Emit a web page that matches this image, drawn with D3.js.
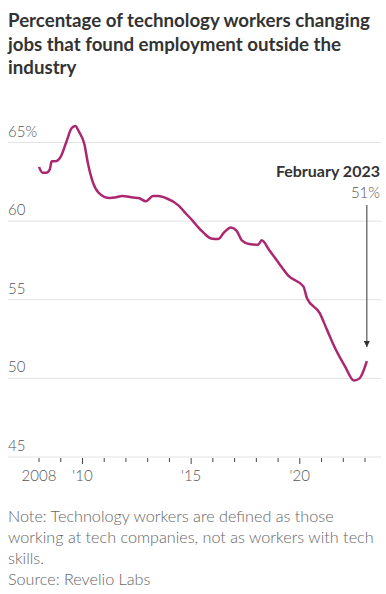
<!DOCTYPE html>
<html>
<head>
<meta charset="utf-8">
<script src="https://cdn.jsdelivr.net/npm/d3@7"></script>
<style>
  body { margin: 0; background: #fff; }
  svg { display: block; }
</style>
</head>
<body>
<div id="chart"></div>
<script>
// chart size
const width = 386;
const height = 594;

// data (month, percent)
const months = ['2008-01','2008-03','2008-05','2008-07','2008-08','2008-10','2009-01','2009-04','2009-07','2009-09','2009-11',
  '2010-02','2010-04','2010-07','2010-10','2011-04','2011-07','2011-11','2012-05','2012-08','2012-12','2013-04','2013-07',
  '2013-11','2014-06','2014-10','2015-02','2015-05','2015-08','2015-12','2016-04','2016-07','2016-11','2017-02','2017-05',
  '2017-09','2018-02','2018-04','2018-08','2019-02','2019-07','2020-03','2020-05','2020-12','2021-04','2021-09','2022-02',
  '2022-07','2022-10','2023-02'];
const values = [63.45,63.07,63.07,63.3,63.8,63.8,64.1,65.0,65.9,66.05,65.7,
  64.9,63.7,62.4,61.8,61.47,61.5,61.6,61.5,61.47,61.26,61.6,61.6,
  61.47,61.0,60.5,60.0,59.6,59.25,58.9,58.86,59.25,59.6,59.4,58.78,
  58.55,58.5,58.78,58.18,57.23,56.5,55.85,55.1,54.15,53.1,51.8,50.75,
  49.86,50.0,51.1];

const yTicks = [45, 50, 55, 60, 65];
const xTickYears = d3.range(2008, 2024);
const xLabels = {2008: '2008', 2010: "'10", 2015: "'15", 2020: "'20"};

const titleLines = ['Percentage of technology workers changing', 'jobs that found employment outside the', 'industry'];
const noteLines = ['Note: Technology workers are defined as those', 'working at tech companies, not as workers with tech', 'skills.', 'Source: Revelio Labs'];

const parse = d3.timeParse('%Y-%m');
const data = months.map((m, i) => ({date: parse(m), value: values[i]}));

const svg = d3.select('#chart').append('svg')
    .attr('width', width)
    .attr('height', height);

const x = d3.scaleTime()
    .domain([new Date(2008, 0, 1), new Date(2023, 0, 1)])
    .range([39, 365]);

const y = d3.scaleLinear()
    .domain([45, 65])
    .range([457, 142.5]);

const lightFont = 'Lato, "Open Sans", sans-serif';

// title
svg.append('g').selectAll('text')
    .data(titleLines)
    .enter()
    .append('text')
    .attr('x', 8)
    .attr('y', (d, i) => 27 + i * 23.5)
    .attr('font-family', lightFont)
    .attr('font-weight', 700)
    .attr('font-size', 18.7)
    .attr('fill', '#333')
    .text(d => d);

// gridlines + y labels
const grid = svg.append('g');
grid.selectAll('line')
    .data(yTicks)
    .enter()
    .append('line')
    .attr('x1', 8)
    .attr('x2', 381)
    .attr('y1', d => y(d))
    .attr('y2', d => y(d))
    .attr('stroke', '#e3e3e3')
    .attr('stroke-width', 1);

grid.selectAll('text')
    .data(yTicks)
    .enter()
    .append('text')
    .attr('x', 8)
    .attr('y', d => y(d) - 6)
    .attr('font-family', lightFont)
    .attr('font-weight', 300)
    .attr('font-size', 15)
    .attr('fill', '#555')
    .text(d => d == 65 ? d + '%' : d);

// x axis ticks
const xa = svg.append('g');
xa.selectAll('line')
    .data(xTickYears)
    .enter()
    .append('line')
    .attr('x1', d => x(new Date(d, 0, 1)))
    .attr('x2', d => x(new Date(d, 0, 1)))
    .attr('y1', 458)
    .attr('y2', d => (d % 5 == 0) ? 464 : 462)
    .attr('stroke', '#444')
    .attr('stroke-width', 1);

xa.selectAll('text')
    .data(Object.keys(xLabels))
    .enter()
    .append('text')
    .attr('x', d => x(new Date(+d, 0, 1)))
    .attr('y', 481)
    .attr('text-anchor', 'middle')
    .attr('font-family', lightFont)
    .attr('font-weight', 300)
    .attr('font-size', 15)
    .attr('fill', '#555')
    .text(d => xLabels[d]);

// the line
const line = d3.line()
    .x(d => x(d.date))
    .y(d => y(d.value))
    .curve(d3.curveMonotoneX);

svg.append('path')
    .datum(data)
    .attr('d', line)
    .attr('fill', 'none')
    .attr('stroke', '#ab2870')
    .attr('stroke-width', 2.5)
    .attr('stroke-linejoin', 'round');

// annotation
const last = data[data.length - 1];
const ax = x(last.date);
svg.append('defs').append('marker')
    .attr('id', 'arrow')
    .attr('viewBox', '0 0 10 10')
    .attr('refX', 10)
    .attr('refY', 5)
    .attr('markerWidth', 6)
    .attr('markerHeight', 6)
    .attr('orient', 'auto')
    .append('path')
    .attr('d', 'M0,0 L10,5 L0,10 z')
    .attr('fill', '#333');

svg.append('line')
    .attr('x1', ax)
    .attr('x2', ax)
    .attr('y1', 205)
    .attr('y2', y(last.value) - 14)
    .attr('stroke', '#333')
    .attr('stroke-width', 1)
    .attr('marker-end', 'url(#arrow)');

svg.append('text')
    .attr('x', 380)
    .attr('y', 177)
    .attr('text-anchor', 'end')
    .attr('font-family', lightFont)
    .attr('font-weight', 700)
    .attr('font-size', 16)
    .attr('fill', '#333')
    .text('February 2023');

svg.append('text')
    .attr('x', 380)
    .attr('y', 198)
    .attr('text-anchor', 'end')
    .attr('font-family', lightFont)
    .attr('font-weight', 300)
    .attr('font-size', 15)
    .attr('fill', '#555')
    .text(Math.round(last.value) + '%');

// note + source
svg.append('g').selectAll('text')
    .data(noteLines)
    .enter()
    .append('text')
    .attr('x', 8)
    .attr('y', (d, i) => 522 + i * 21)
    .attr('font-family', lightFont)
    .attr('font-weight', 300)
    .attr('font-size', 16.2)
    .attr('fill', '#666')
    .text(d => d);
</script>
</body>
</html>
